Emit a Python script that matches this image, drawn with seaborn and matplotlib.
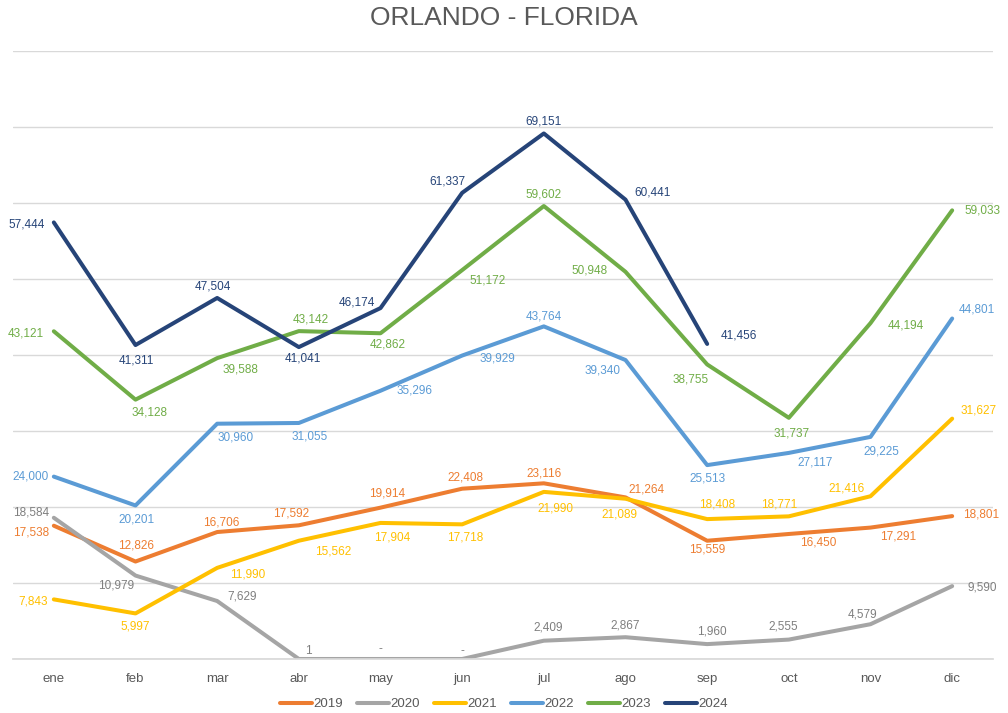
import matplotlib
matplotlib.use("Agg")
import matplotlib.pyplot as plt
import seaborn as sns
import numpy as np
import pandas as pd

months = ["ene", "feb", "mar", "abr", "may", "jun", "jul", "ago", "sep", "oct", "nov", "dic"]
years = ["2019", "2020", "2021", "2022", "2023", "2024"]

v2019 = [17538, 12826, 16706, 17592, 19914, 22408, 23116, 21264, 15559, 16450, 17291, 18801]
v2020 = [18584, 10979, 7629, 1, 0, 0, 2409, 2867, 1960, 2555, 4579, 9590]
v2021 = [7843, 5997, 11990, 15562, 17904, 17718, 21990, 21089, 18408, 18771, 21416, 31627]
v2022 = [24000, 20201, 30960, 31055, 35296, 39929, 43764, 39340, 25513, 27117, 29225, 44801]
v2023 = [43121, 34128, 39588, 43142, 42862, 51172, 59602, 50948, 38755, 31737, 44194, 59033]
v2024 = [57444, 41311, 47504, 41041, 46174, 61337, 69151, 60441, 41456, None, None, None]

series = {"2019": v2019, "2020": v2020, "2021": v2021, "2022": v2022, "2023": v2023, "2024": v2024}

colors = {"2019": "#ED7D31", "2020": "#A5A5A5", "2021": "#FFC000",
          "2022": "#5B9BD5", "2023": "#70AD47", "2024": "#264478"}
label_colors = dict(colors, **{"2020": "#7F7F7F"})

# label offsets in pixels (dx, dy) relative to the point (dy positive = down)
offsets = {
    "2019": [(-23, 7), (1, -16), (4, -10), (-8, -12), (7, -14), (3, -11), (0, -10), (21, -8), (0, 9), (29, 9), (28, 9), (29, -2)],
    "2020": [(-23, -5), (-19, 10), (25, -5), (10, -8), (0, -10), (0, -8), (4, -13), (0, -12), (5, -13), (-6, -13), (-8, -10), (30, 1)],
    "2021": [(-21, 2), (0, 13), (31, 7), (34, 11), (12, 15), (3, 13), (12, 17), (-6, 16), (10, -15), (-10, -12), (-24, -8), (26, -8)],
    "2022": [(-23, 0), (1, 14), (18, 14), (11, 14), (34, 0), (35, 3), (0, -10), (-23, 10), (0, 13), (26, 10), (11, 15), (25, -9)],
    "2023": [(-28, 2), (14, 13), (23, 11), (12, -12), (7, 11), (25, 10), (0, -12), (-36, -1), (-17, 15), (3, 16), (35, 2), (30, 0)],
    "2024": [(-27, 2), (1, 15), (-4, -11), (4, 11), (-24, -6), (-15, -11), (0, -12), (27, -7), (32, -8), None, None, None],
}

rows = []
for y in years:
    for i, v in enumerate(series[y]):
        rows.append({"x": i, "value": np.nan if v is None else v, "year": y})
df = pd.DataFrame(rows)

sns.set_theme(style="white")
plt.rcParams["font.family"] = ["Liberation Sans", "DejaVu Sans"]

fig = plt.figure(figsize=(10.08, 7.13), dpi=100)
ax = fig.add_axes([13 / 1008, 54 / 713, 980 / 1008, (659 - 51) / 713])

sns.lineplot(data=df, x="x", y="value", hue="year", palette=colors,
             linewidth=2.9, ax=ax, legend=False, sort=False)

ax.set_xlim(-0.5, 11.5)
ax.set_ylim(0, 80000)
ax.set_yticks(np.arange(0, 80001, 10000))
ax.yaxis.grid(True, color="#D9D9D9", linewidth=1)
ax.set_axisbelow(True)
ax.tick_params(axis="y", left=False, labelleft=False)
ax.set_xticks(range(len(months)))
ax.set_xticklabels(months, color="#595959", fontsize=9.5)
ax.tick_params(axis="x", bottom=False, pad=4)
for s in ["top", "right", "left"]:
    ax.spines[s].set_visible(False)
ax.spines["bottom"].set_color("#D9D9D9")
ax.set_xlabel("")
ax.set_ylabel("")

for y in years:
    for i, v in enumerate(series[y]):
        if v is None:
            continue
        dx, dy = offsets[y][i]
        txt = "-" if v == 0 else f"{v:,}"
        ax.annotate(txt, (i, v), xytext=(dx, -dy), textcoords="offset pixels",
                    ha="center", va="center", fontsize=8.5, color=label_colors[y],
                    annotation_clip=False)

fig.text(0.5, 1 - 18 / 713, "ORLANDO - FLORIDA", ha="center", va="center",
         fontsize=19, color="#595959")

handles = [plt.Line2D([0], [0], color=colors[y], linewidth=2.9) for y in years]
fig.legend(handles, years, loc="center", bbox_to_anchor=(0.5, 1 - 704 / 713), ncol=6,
           frameon=False, fontsize=9.5, handlelength=2.4, handletextpad=0.1,
           columnspacing=1.1, labelcolor="#595959")

fig.savefig("out.png", dpi=100, facecolor="white")
